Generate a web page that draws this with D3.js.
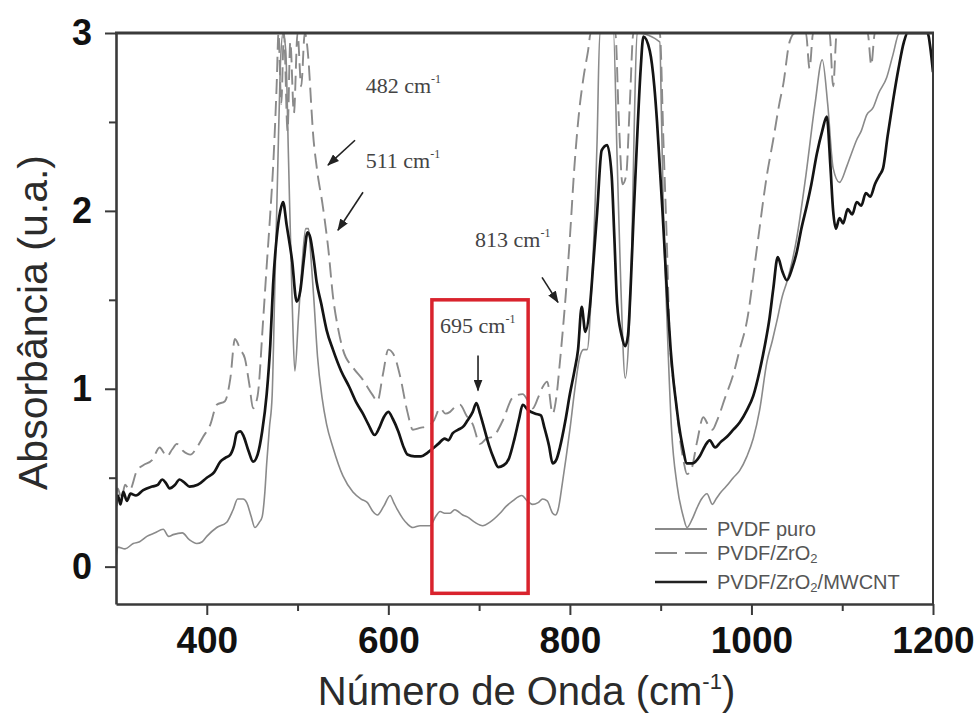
<!DOCTYPE html>
<html><head><meta charset="utf-8">
<script src="https://cdn.jsdelivr.net/npm/d3@7/dist/d3.min.js"></script>
<style>body{margin:0;background:#fff}svg{display:block}</style>
</head><body>
<svg id="chart" width="979" height="720"></svg>
<script>
// ---------- data ----------
const xMajorTicks = [400, 600, 800, 1000, 1200];
const xMinorTicks = [500, 700, 900, 1100];
const yMajorTicks = [0, 1, 2, 3];
const yMinorTicks = [0.5, 1.5, 2.5];
const seriesNames = ["PVDF puro", "PVDF/ZrO2", "PVDF/ZrO2/MWCNT"];

const wnPuro = [300,302,310,319,326,334,343,352,358,363,373,381,389,395,400,411,422,429,434,440,444,449,453,458,461,464,466,469,472,475,478,481,484,487,490,494,497,501,505,509,512,515,518,522,527,532,539,550,561,570,577,583,588,595,602,606,610,616,621,627,635,646,652,657,662,668,673,677,682,687,695,704,712,723,730,737,747,753,759,765,770,775,781,784,787,792,796,800,805,811,815,819,824,830,833,848,852,856,861,865,868,871,874,899,901,903,907,912,918,925,929,935,940,945,951,957,961,965,972,980,987,995,1002,1009,1017,1023,1028,1034,1039,1045,1050,1060,1070,1078,1084,1090,1097,1105,1110,1116,1121,1127,1134,1140,1149,1156,1163,1200];
const absPuro = [0.05,0.11,0.10,0.13,0.14,0.17,0.19,0.21,0.17,0.18,0.19,0.15,0.13,0.14,0.17,0.22,0.25,0.32,0.38,0.38,0.36,0.28,0.22,0.25,0.28,0.42,0.58,0.78,0.96,1.58,2.2,2.81,3.0,2.9,2.3,1.5,1.1,1.4,1.7,1.9,1.9,1.72,1.5,1.18,0.95,0.8,0.67,0.51,0.42,0.38,0.36,0.31,0.29,0.34,0.40,0.36,0.32,0.27,0.24,0.22,0.23,0.23,0.28,0.31,0.30,0.30,0.32,0.31,0.29,0.28,0.25,0.23,0.25,0.30,0.34,0.37,0.40,0.37,0.35,0.36,0.38,0.37,0.30,0.29,0.32,0.48,0.62,0.77,0.98,1.18,1.22,1.22,1.58,2.4,3.0,3.0,2.3,1.6,1.06,1.3,1.75,2.5,3.0,2.95,2.5,2.0,1.38,0.77,0.46,0.28,0.22,0.27,0.33,0.38,0.41,0.35,0.38,0.41,0.45,0.50,0.54,0.62,0.72,0.88,1.15,1.27,1.38,1.52,1.60,1.72,1.85,2.2,2.6,2.85,2.6,2.24,2.16,2.25,2.32,2.40,2.45,2.54,2.58,2.66,2.75,2.88,3.0,3.0];

const wnZrO2 = [300,302,306,310,315,323,330,340,348,356,362,367,374,382,389,396,404,411,420,426,431,437,442,447,451,456,462,466,470,473,477,479,482,485,489,492,496,500,504,508,512,515,517,521,528,534,539,545,550,561,572,582,588,594,600,607,613,621,627,635,643,650,657,663,668,674,679,686,693,701,708,715,726,737,748,754,759,765,770,775,781,785,789,795,800,805,810,815,820,823,850,854,858,862,866,870,899,903,907,910,916,921,925,929,934,940,947,952,957,962,971,980,987,995,1006,1017,1024,1031,1035,1042,1048,1060,1064,1068,1086,1090,1094,1128,1132,1136,1200];
const absZrO2 = [0.40,0.44,0.38,0.46,0.43,0.54,0.57,0.60,0.67,0.62,0.66,0.69,0.65,0.63,0.67,0.73,0.80,0.91,0.93,1.06,1.28,1.22,1.17,1.02,0.89,0.96,1.38,1.69,1.99,2.24,2.71,3.0,2.6,3.0,2.45,2.95,2.55,3.0,2.7,3.0,2.85,2.6,2.44,2.25,2.02,1.78,1.52,1.33,1.22,1.12,1.05,0.97,0.93,1.08,1.22,1.18,1.07,0.87,0.77,0.78,0.79,0.82,0.89,0.86,0.87,0.90,0.91,0.85,0.80,0.69,0.72,0.73,0.82,0.95,0.97,0.93,0.89,0.95,1.01,1.04,0.86,0.95,1.15,1.5,1.85,2.25,2.55,2.75,2.9,3.0,3.0,2.5,2.15,2.2,2.6,3.0,3.0,2.40,1.79,1.28,0.97,0.73,0.60,0.52,0.55,0.70,0.84,0.80,0.77,0.82,0.95,1.08,1.22,1.38,1.79,2.20,2.40,2.61,2.71,2.95,3.0,3.0,2.8,3.0,3.0,2.7,3.0,3.0,2.82,3.0,3.0];

const wnMwcnt = [300,302,305,308,312,316,322,330,340,346,351,355,359,365,370,376,381,390,400,408,415,420,426,430,433,437,440,446,451,456,461,466,470,473,477,481,484,488,494,499,503,507,511,514,518,521,526,532,539,548,557,565,572,578,585,590,595,600,605,611,617,621,629,636,643,648,655,662,666,671,677,683,687,693,697,701,706,711,716,721,727,733,739,744,748,754,762,768,772,777,781,785,789,795,800,805,809,813,817,822,826,830,835,841,846,849,852,857,861,864,867,870,874,878,881,888,893,896,899,902,905,908,911,914,917,920,924,929,935,943,949,954,960,966,973,980,987,995,1002,1009,1015,1020,1024,1029,1034,1039,1045,1050,1055,1061,1066,1072,1078,1083,1087,1090,1093,1097,1101,1106,1111,1116,1121,1126,1131,1136,1141,1145,1150,1156,1162,1168,1172,1194,1197,1200];
const absMwcnt = [0.34,0.40,0.35,0.42,0.37,0.41,0.40,0.43,0.45,0.46,0.49,0.47,0.44,0.46,0.49,0.47,0.45,0.46,0.50,0.53,0.59,0.61,0.63,0.68,0.75,0.76,0.74,0.65,0.59,0.63,0.76,0.97,1.25,1.58,1.85,2.00,2.05,1.92,1.72,1.49,1.55,1.73,1.88,1.85,1.72,1.60,1.48,1.33,1.22,1.10,1.01,0.92,0.86,0.80,0.74,0.78,0.84,0.87,0.83,0.76,0.67,0.63,0.62,0.62,0.64,0.66,0.69,0.72,0.71,0.75,0.77,0.79,0.82,0.87,0.92,0.86,0.77,0.68,0.61,0.56,0.57,0.61,0.72,0.83,0.91,0.88,0.86,0.85,0.78,0.68,0.58,0.60,0.67,0.82,0.97,1.10,1.22,1.46,1.32,1.46,1.72,1.99,2.34,2.37,2.20,1.85,1.48,1.30,1.24,1.30,1.58,1.95,2.40,2.80,2.98,2.90,2.70,2.50,2.25,2.00,1.72,1.45,1.22,1.05,0.92,0.80,0.68,0.58,0.58,0.62,0.68,0.71,0.67,0.70,0.73,0.77,0.81,0.88,0.96,1.10,1.25,1.40,1.56,1.74,1.66,1.61,1.68,1.77,1.90,2.03,2.15,2.32,2.45,2.53,2.25,2.00,1.90,1.96,1.93,2.01,1.98,2.05,2.03,2.10,2.08,2.15,2.20,2.24,2.42,2.62,2.80,2.95,3.0,3.0,2.92,2.78];

// annotation labels (wavenumber text, anchor in data units) and arrows (data units)
const annoText = ["482", "511", "813", "695"];
const annoTextX = [575, 575, 695.5, 657];
const annoTextY = [2.66, 2.24, 1.795, 1.311];
const arrowFromX = [563.3, 572.1, 769.3, 698.8];
const arrowFromY = [2.397, 2.105, 1.626, 1.187];
const arrowToX = [533.5, 544.5, 786.9, 698.8];
const arrowToY = [2.257, 1.891, 1.486, 0.99];
const boxX = [648, 754];
const boxY = [-0.15, 1.5];

// ---------- layout ----------
const svg = d3.select("#chart");
const L = 116, R = 933, T = 33, B = 604;
const x = d3.scaleLinear().domain([300, 1200]).range([L, R]);
const y = d3.scaleLinear().domain([-0.21, 3]).range([B, T]);
const sans = "'Liberation Sans', Arial, Helvetica, sans-serif";
const serif = "'Liberation Serif', 'Times New Roman', serif";
const axisColor = "#3a3a3a";

svg.append("rect").attr("width", 979).attr("height", 720).attr("fill", "#fff");

svg.append("defs").append("clipPath").attr("id", "plotclip")
  .append("rect").attr("x", L).attr("y", T).attr("width", R - L).attr("height", B - T);

// ---------- series ----------
const line = d3.line().x(d => x(d[0])).y(d => y(d[1])).curve(d3.curveMonotoneX);
const zip = (a, b) => a.map((v, i) => [v, b[i]]);
const series = [
  {name: seriesNames[0], data: zip(wnPuro, absPuro), color: "#8a8a8a", width: 1.6, dash: null},
  {name: seriesNames[1], data: zip(wnZrO2, absZrO2), color: "#8a8a8a", width: 1.9, dash: "15,7"},
  {name: seriesNames[2], data: zip(wnMwcnt, absMwcnt), color: "#141414", width: 2.7, dash: null}
];
const plot = svg.append("g").attr("clip-path", "url(#plotclip)");
series.forEach(s => {
  plot.append("path").datum(s.data).attr("d", line)
    .attr("fill", "none").attr("stroke", s.color).attr("stroke-width", s.width)
    .attr("stroke-linejoin", "round")
    .attr("stroke-dasharray", s.dash);
});

// ---------- axes ----------
const gx = svg.append("g").attr("transform", `translate(0,${B})`);
gx.call(d3.axisBottom(x).tickValues(xMajorTicks).tickSize(11).tickSizeOuter(0).tickPadding(12).tickFormat(d3.format("d")));
const gxm = svg.append("g").attr("transform", `translate(0,${B})`);
gxm.call(d3.axisBottom(x).tickValues(xMinorTicks).tickSize(7).tickSizeOuter(0).tickFormat(""));
gxm.select(".domain").remove();

const gy = svg.append("g").attr("transform", `translate(${L},0)`);
gy.call(d3.axisLeft(y).tickValues(yMajorTicks).tickSize(11).tickSizeOuter(0).tickPadding(13).tickFormat(d3.format("d")));
const gym = svg.append("g").attr("transform", `translate(${L},0)`);
gym.call(d3.axisLeft(y).tickValues(yMinorTicks).tickSize(7).tickSizeOuter(0).tickFormat(""));
gym.select(".domain").remove();

[gx, gxm, gy, gym].forEach(g => {
  g.selectAll(".domain").attr("stroke", axisColor).attr("stroke-width", 2.6);
  g.selectAll(".tick line").attr("stroke", axisColor).attr("stroke-width", 2);
});
gx.selectAll(".tick text").attr("font-family", sans).attr("font-weight", "bold")
  .attr("font-size", 37).attr("fill", "#111");
gy.selectAll(".tick text").attr("font-family", sans).attr("font-weight", "bold")
  .attr("font-size", 36).attr("fill", "#111");

// frame: top and right
svg.append("line").attr("x1", L - 1).attr("x2", R + 1).attr("y1", y(3)).attr("y2", y(3))
  .attr("stroke", axisColor).attr("stroke-width", 3);
svg.append("line").attr("x1", x(1200)).attr("x2", x(1200)).attr("y1", T).attr("y2", B)
  .attr("stroke", axisColor).attr("stroke-width", 2);

// axis titles
const xt = svg.append("text").attr("x", (L + R) / 2 + 2).attr("y", 705)
  .attr("text-anchor", "middle").attr("font-family", sans).attr("font-size", 40).attr("fill", "#2b2b2b");
xt.append("tspan").text("Número de Onda (cm");
xt.append("tspan").attr("font-size", 22).attr("dy", -16).text("-1");
xt.append("tspan").attr("dy", 16).text(")");

svg.append("text").attr("transform", `translate(47,${(T + B) / 2 + 4}) rotate(-90)`)
  .attr("text-anchor", "middle").attr("font-family", sans).attr("font-size", 41).attr("fill", "#2b2b2b")
  .text("Absorbância (u.a.)");

// ---------- annotations ----------
const defs = svg.select("defs");
defs.append("marker").attr("id", "arrowhead").attr("markerUnits", "userSpaceOnUse")
  .attr("markerWidth", 12).attr("markerHeight", 9).attr("refX", 11).attr("refY", 4.5).attr("orient", "auto")
  .append("path").attr("d", "M0,0 L12,4.5 L0,9 Z").attr("fill", "#222");

annoText.forEach((t, i) => {
  const tx = svg.append("text").attr("x", x(annoTextX[i])).attr("y", y(annoTextY[i]))
    .attr("font-family", serif).attr("font-size", 22).attr("fill", "#444");
  tx.append("tspan").text(t + " cm");
  tx.append("tspan").attr("font-size", 12).attr("dy", -10).text("-1");
  svg.append("line").attr("x1", x(arrowFromX[i])).attr("y1", y(arrowFromY[i]))
    .attr("x2", x(arrowToX[i])).attr("y2", y(arrowToY[i]))
    .attr("stroke", "#222").attr("stroke-width", 1.6).attr("marker-end", "url(#arrowhead)");
});

// highlight box
svg.append("rect").attr("x", x(boxX[0])).attr("y", y(boxY[1]))
  .attr("width", x(boxX[1]) - x(boxX[0])).attr("height", y(boxY[0]) - y(boxY[1]))
  .attr("fill", "none").attr("stroke", "#d9232d").attr("stroke-width", 3.5);

// ---------- legend ----------
const legY = [529, 553, 582];
const legText = [["PVDF puro"], ["PVDF/ZrO", "2"], ["PVDF/ZrO", "2", "/MWCNT"]];
series.forEach((s, i) => {
  svg.append("line").attr("x1", 655).attr("x2", 707).attr("y1", legY[i]).attr("y2", legY[i])
    .attr("stroke", i === 2 ? "#222" : s.color).attr("stroke-width", i === 2 ? 2.6 : 2)
    .attr("stroke-dasharray", s.dash ? "22,8" : null);
  const t = svg.append("text").attr("x", 717).attr("y", legY[i] + 7)
    .attr("font-family", sans).attr("font-size", 20).attr("fill", "#555");
  const parts = legText[i];
  t.append("tspan").text(parts[0]);
  if (parts.length > 1) {
    t.append("tspan").attr("font-size", 13).attr("dy", 3).text(parts[1]);
  }
  if (parts.length > 2) {
    t.append("tspan").attr("dy", -3).text(parts[2]);
  }
});
</script>
</body></html>
